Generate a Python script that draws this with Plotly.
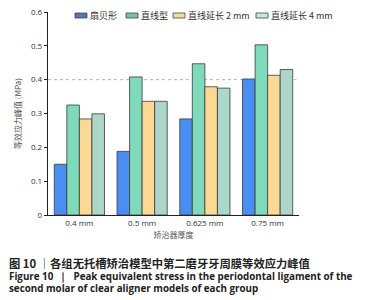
import plotly.graph_objects as go

categories = ["0.4 mm", "0.5 mm", "0.625 mm", "0.75 mm"]
series_names = ["扇贝形", "直线型", "直线延长 2 mm", "直线延长 4 mm"]
scallop = [0.150, 0.188, 0.284, 0.402]
straight = [0.325, 0.408, 0.447, 0.503]
ext2 = [0.284, 0.336, 0.379, 0.413]
ext4 = [0.299, 0.336, 0.375, 0.430]
y_ticks = [0, 0.1, 0.2, 0.3, 0.4, 0.5, 0.6]
y_tick_text = ["0", "0.1", "0.2", "0.3", "0.4", "0.5", "0.6"]

colors = ["#4b8ef2", "#7fd9bb", "#fbd894", "#abd6c9"]
legend_colors = ["#5575b5", "#74c2a6", "#efdca0", "#c4ead8"]
values = [scallop, straight, ext2, ext4]

# plot area in pixels
L, R, T, B = 48, 299, 12, 215
W, H = 371, 300
pw, ph = R - L, B - T
def px(x):
    return (x - L) / pw
def py(y):
    return (B - y) / ph

fig = go.Figure()
for name, vals, c in zip(series_names, values, colors):
    fig.add_trace(go.Bar(x=categories, y=vals, name=name, showlegend=False,
                         marker=dict(color=c, line=dict(color="#3a3a3a", width=0.8))))

fig.add_shape(type="line", xref="paper", yref="y", x0=0, x1=0.99, y0=0.4, y1=0.4,
              line=dict(color="#b0b0b0", width=1, dash="dot"), layer="below")

# manual legend
sw_x = [75, 126, 173, 256]
for name, lc, x0 in zip(series_names, legend_colors, sw_x):
    fig.add_shape(type="rect", xref="paper", yref="paper",
                  x0=px(x0), x1=px(x0 + 12), y0=py(18), y1=py(13),
                  fillcolor=lc, line=dict(color="#444444", width=0.8))
    fig.add_annotation(xref="paper", yref="paper", x=px(x0 + 13), y=py(15.5),
                       xanchor="left", yanchor="middle", showarrow=False, text=name,
                       font=dict(size=9, family="Noto Sans CJK SC", color="#333333"))

fig.update_layout(
    width=W, height=H,
    margin=dict(l=L, r=W - R, t=T, b=H - B, autoexpand=False),
    paper_bgcolor="white", plot_bgcolor="white",
    barmode="group", bargap=0.2, bargroupgap=0,
    font=dict(family="Noto Sans CJK SC, Open Sans", size=8, color="#333333"),
    showlegend=False,
    xaxis=dict(showline=True, linecolor="#222222", linewidth=1.2, ticks="",
               tickfont=dict(size=8, family="Open Sans"), range=[-0.5, 3.5],
               title=dict(text="矫治器厚度", font=dict(size=8, family="Noto Sans CJK SC", color="#555555"), standoff=5)),
    yaxis=dict(range=[0, 0.6], tickvals=y_ticks, ticktext=y_tick_text, showline=True,
               linecolor="#222222", linewidth=1.2, ticks="outside", ticklen=3, tickwidth=1,
               tickcolor="#222222", showgrid=False, zeroline=False,
               tickfont=dict(size=8, family="Open Sans"),
               title=dict(text="等效应力峰值 (MPa)", font=dict(size=8, family="Noto Sans CJK SC", color="#555555"), standoff=8)),
)

fig.add_annotation(xref="paper", yref="paper", x=px(7), y=py(263), xanchor="left", yanchor="middle",
                   showarrow=False, text="<b>图 10 ｜各组无托槽矫治模型中第二磨牙牙周膜等效应力峰值</b>",
                   font=dict(size=11.3, family="Noto Sans CJK SC", color="#222222"))
fig.add_annotation(xref="paper", yref="paper", x=px(7), y=py(276), xanchor="left", yanchor="middle",
                   showarrow=False, text="<b>Figure 10  ｜  Peak equivalent stress in the periodontal ligament of the</b>",
                   font=dict(size=9.8, family="Open Sans", color="#222222"))
fig.add_annotation(xref="paper", yref="paper", x=px(7), y=py(288), xanchor="left", yanchor="middle",
                   showarrow=False, text="<b>second molar of clear aligner models of each group</b>",
                   font=dict(size=9.8, family="Open Sans", color="#222222"))

fig.write_html("out.html", config={"displayModeBar": False, "staticPlot": True},
               post_script="document.body.style.margin='0';document.body.style.overflow='hidden';")
